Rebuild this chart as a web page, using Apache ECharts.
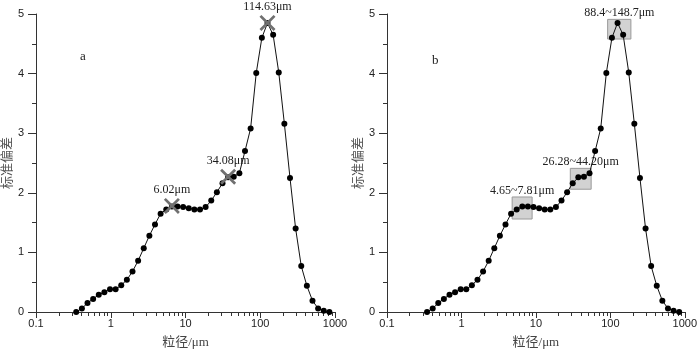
<!DOCTYPE html>
<html>
<head>
<meta charset="utf-8">
<script src="https://cdn.jsdelivr.net/npm/echarts@6/dist/echarts.min.js"></script>
<style>
  html, body { margin: 0; padding: 0; background: #fff; }
  #chart { width: 700px; height: 354px; }
</style>
</head>
<body>
<div id="chart"></div>
<script>
// 粒级 (1/4 phi 间隔), μm
var sizes = [0.345, 0.411, 0.488, 0.581, 0.691, 0.821, 0.977, 1.161, 1.381, 1.642,
  1.953, 2.323, 2.762, 3.285, 3.906, 4.645, 5.524, 6.570, 7.813, 9.291,
  11.05, 13.14, 15.63, 18.58, 22.10, 26.28, 31.25, 37.16, 44.19, 52.56,
  62.5, 74.33, 88.39, 105.1, 125, 148.7, 176.8, 210.2, 250, 297.3,
  353.6, 420.4, 500, 594.6, 707.1, 840.9];
// 标准偏差
var stdDev = [0, 0.06, 0.15, 0.22, 0.29, 0.33, 0.38, 0.38, 0.45, 0.54,
  0.68, 0.86, 1.07, 1.28, 1.47, 1.65, 1.72, 1.77, 1.77, 1.76,
  1.74, 1.72, 1.72, 1.76, 1.87, 2.01, 2.16, 2.26, 2.27, 2.33,
  2.70, 3.08, 4.01, 4.60, 4.85, 4.65, 4.02, 3.16, 2.25, 1.40,
  0.77, 0.44, 0.19, 0.06, 0.02, 0];

var minorTicks = [0.2, 0.3, 0.4, 0.5, 0.6, 0.7, 0.8, 0.9,
  2, 3, 4, 5, 6, 7, 8, 9,
  20, 30, 40, 50, 60, 70, 80, 90,
  200, 300, 400, 500, 600, 700, 800, 900];

// 图a 峰值标记
var peaksA = [[6.57, 1.78], [37.16, 2.27], [125, 4.85]];
var peakLabelsA = ['6.02μm', '34.08μm', '114.63μm'];

// 图b 粒级区间 [x1, x2, y1, y2]
var rangesB = [[4.8, 8.9, 1.56, 1.93], [29.0, 55.3, 2.06, 2.41], [92, 189, 4.58, 4.91]];
var rangeLabelsB = ['4.65~7.81μm', '26.28~44.20μm', '88.4~148.7μm'];

var serif = '"Liberation Serif", "Times New Roman", "Noto Sans CJK SC", serif';
var sans = '"Liberation Sans", Arial, sans-serif';

var chart = echarts.init(document.getElementById('chart'));

function xAxisOf(idx) {
  return {
    type: 'log', logBase: 10, gridIndex: idx, min: 0.1, max: 1000,
    name: '粒径/μm', nameLocation: 'middle', nameGap: 24,
    nameTextStyle: { fontFamily: serif, fontSize: 13, color: '#444' },
    axisLine: { lineStyle: { color: '#333', width: 1 } },
    axisTick: { length: 6, lineStyle: { color: '#333' } },
    minorTick: { show: false },
    splitLine: { show: false },
    axisLabel: {
      fontFamily: sans, fontSize: 11, color: '#222', margin: 6,
      formatter: function (v) { return String(+(+v).toPrecision(6)); }
    }
  };
}

function yAxisOf(idx) {
  return {
    type: 'value', gridIndex: idx, min: 0, max: 5, interval: 1,
    name: '标准偏差', nameLocation: 'middle', nameGap: 21,
    nameTextStyle: { fontFamily: serif, fontSize: 13, color: '#555' },
    axisLine: { show: true, lineStyle: { color: '#333', width: 1 } },
    axisTick: { show: true, length: 8, lineStyle: { color: '#333' } },
    minorTick: { show: true, splitNumber: 2, length: 4, lineStyle: { color: '#333' } },
    splitLine: { show: false },
    axisLabel: { fontFamily: sans, fontSize: 11, color: '#222', margin: 12 }
  };
}

function minorTickSeries(idx) {
  return {
    type: 'custom', xAxisIndex: idx, yAxisIndex: idx, silent: true, clip: false, z: 1,
    data: minorTicks.map(function (v) { return [v, 0]; }),
    renderItem: function (params, api) {
      var p = api.coord([api.value(0), 0]);
      var x = Math.round(p[0]) + 0.5;
      return {
        type: 'line',
        shape: { x1: x, y1: p[1], x2: x, y2: p[1] + 4 },
        style: { stroke: '#333', lineWidth: 1 }
      };
    }
  };
}

function curveSeries(idx) {
  return {
    type: 'line', xAxisIndex: idx, yAxisIndex: idx, z: 2,
    data: sizes.map(function (s, i) { return [s, stdDev[i]]; }),
    symbol: 'circle', symbolSize: 6, showSymbol: true,
    lineStyle: { color: '#111', width: 1 },
    itemStyle: { color: '#000' },
    animation: false
  };
}

var cross = 'path://M0,1.2L1.2,0L5,3.8L8.8,0L10,1.2L6.2,5L10,8.8L8.8,10L5,6.2L1.2,10L0,8.8L3.8,5Z';

var seriesB = curveSeries(1);
seriesB.markArea = {
  silent: true,
  itemStyle: { color: '#d2d2d2', borderColor: '#9a9a9a', borderWidth: 1 },
  label: { show: true, position: 'top', distance: 0, fontFamily: serif, fontSize: 12, color: '#222' },
  data: rangesB.map(function (r, i) {
    return [{ name: rangeLabelsB[i], coord: [r[0], r[3]] }, { coord: [r[1], r[2]] }];
  })
};

option = {
  animation: false,
  backgroundColor: '#fff',
  title: [
    { text: 'a', left: 75, top: 45, textStyle: { fontFamily: serif, fontSize: 13, fontWeight: 'normal', color: '#222' } },
    { text: 'b', left: 427, top: 49, textStyle: { fontFamily: serif, fontSize: 13, fontWeight: 'normal', color: '#222' } }
  ],
  grid: [
    { left: 36, top: 14, width: 299, height: 299 },
    { left: 387, top: 14, width: 300, height: 299 }
  ],
  xAxis: [xAxisOf(0), xAxisOf(1)],
  yAxis: [yAxisOf(0), yAxisOf(1)],
  series: [
    minorTickSeries(0),
    minorTickSeries(1),
    curveSeries(0),
    seriesB,
    {
      type: 'scatter', xAxisIndex: 0, yAxisIndex: 0, z: 5,
      symbol: cross, symbolSize: 16,
      itemStyle: { color: '#707070', opacity: 1 },
      data: peaksA.map(function (p, i) { return { value: p, name: peakLabelsA[i] }; }),
      label: {
        show: true, position: 'top', distance: 2, opacity: 1,
        formatter: '{b}', fontFamily: serif, fontSize: 12, color: '#1a1a1a'
      }
    }
  ]
};

chart.setOption(option);
</script>
</body>
</html>
